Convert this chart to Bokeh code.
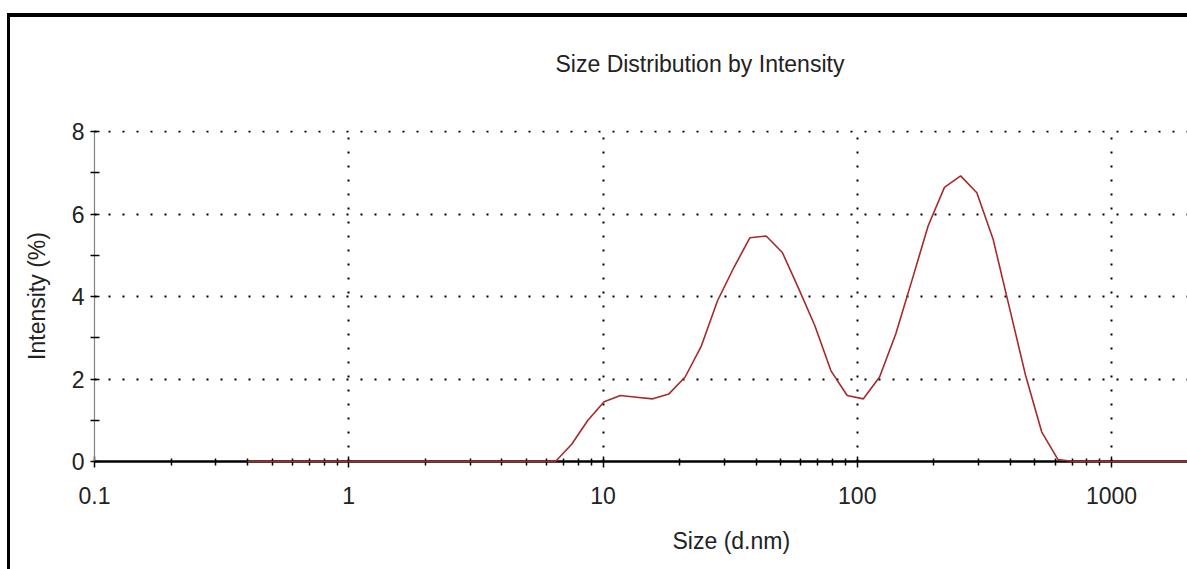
from bokeh.plotting import figure
from bokeh.models import Range1d, FixedTicker, Title
from bokeh.embed import file_html
from bokeh.resources import INLINE

# Size bins (d.nm) and intensity (%)
sizes = [0.4, 0.4632, 0.5365, 0.6213, 0.7195, 0.8332, 0.9649, 1.117, 1.294, 1.499,
         1.736, 2.01, 2.328, 2.696, 3.122, 3.615, 4.187, 4.849, 5.615, 6.503,
         7.531, 8.721, 10.1, 11.7, 13.54, 15.69, 18.17, 21.04, 24.36, 28.21,
         32.67, 37.84, 43.82, 50.75, 58.77, 68.06, 78.82, 91.28, 105.7, 122.4,
         141.8, 164.2, 190.1, 220.2, 255.0, 295.3, 342.0, 396.1, 458.7, 531.2,
         615.1, 712.4, 825.0, 955.4, 1106, 1281, 1484, 1718, 1990, 2305,
         2669, 3091, 3580, 4145, 4801, 5560, 6439, 7456, 8635, 10000]
intensity = [0, 0, 0, 0, 0, 0, 0, 0, 0, 0,
             0, 0, 0, 0, 0, 0, 0, 0, 0, 0.0,
             0.42, 1.0, 1.45, 1.6, 1.56, 1.52, 1.64, 2.05, 2.8, 3.9,
             4.7, 5.43, 5.47, 5.07, 4.2, 3.3, 2.2, 1.6, 1.52, 2.05,
             3.1, 4.4, 5.72, 6.65, 6.93, 6.52, 5.4, 3.75, 2.1, 0.72,
             0.05, 0, 0, 0, 0, 0, 0, 0, 0, 0,
             0, 0, 0, 0, 0, 0, 0, 0, 0, 0]

x_tick_values = [0.1, 1, 10, 100, 1000, 10000]
x_tick_labels = ["0.1", "1", "10", "100", "1000", "10000"]
x_grid_values = [1, 10, 100, 1000]
x_minor_values = [m * d for d in (0.1, 1, 10, 100, 1000) for m in range(2, 10)]
y_tick_values = [0, 2, 4, 6, 8]
y_minor_values = [1, 3, 5, 7]
y_grid_values = [2, 4, 6, 8]

title_text = "Size Distribution by Intensity"
x_label = "Size (d.nm)"
y_label = "Intensity (%)"

FONT = "Liberation Sans"
TXT = "#222222"

p = figure(width=1187, height=569, x_axis_type="log",
           x_range=Range1d(0.1, 1990), y_range=Range1d(0, 8.03),
           output_backend="svg", toolbar_location=None,
           min_border_left=94, min_border_right=0,
           min_border_top=130, min_border_bottom=108,
           title=title_text)

p.background_fill_color = "white"
p.border_fill_color = None
p.outline_line_color = None
# thin black frame lines along the top and left of the picture
p.styles = {"box-shadow": "inset 0 13px 0 0 white, inset 7px 0 0 0 white, "
                          "inset 0 17px 0 0 black, inset 10px 0 0 0 black"}

p.title.align = "left"
p.title.offset = 461
p.title.text_font = FONT
p.title.text_font_size = "23px"
p.title.text_font_style = "normal"
p.title.text_color = TXT
p.title.standoff = 0
p.title.padding = dict(left=0, right=0, top=0, bottom=54)

xl = Title(text=x_label, align="left", offset=578, text_font=FONT,
           text_font_size="23px", text_font_style="normal", text_color=TXT,
           vertical_align="top", standoff=0,
           padding=dict(left=0, right=0, top=21, bottom=0))
p.add_layout(xl, "below")

# x axis
xa = p.xaxis[0]
xa.ticker = FixedTicker(ticks=x_tick_values, minor_ticks=x_minor_values)
xa.major_label_overrides = dict(zip(x_tick_values, x_tick_labels))
xa.axis_line_color = "black"
xa.axis_line_width = 2.5
xa.major_tick_line_color = "black"
xa.major_tick_line_width = 1.5
xa.minor_tick_line_color = "black"
xa.minor_tick_line_width = 1.5
xa.major_tick_in = 5
xa.major_tick_out = 6
xa.minor_tick_in = 3
xa.minor_tick_out = 4
xa.major_label_standoff = 19
xa.major_label_text_font = FONT
xa.major_label_text_font_size = "23px"
xa.major_label_text_color = TXT

# y axis
ya = p.yaxis[0]
ya.ticker = FixedTicker(ticks=y_tick_values, minor_ticks=y_minor_values)
ya.axis_line_color = "#808080"
ya.axis_line_width = 1.2
ya.major_tick_line_color = "black"
ya.major_tick_line_width = 1.5
ya.minor_tick_line_color = "black"
ya.minor_tick_line_width = 1.5
ya.major_tick_in = 5
ya.major_tick_out = 4
ya.minor_tick_in = 5
ya.minor_tick_out = 4
ya.major_label_standoff = 6
ya.major_label_text_font = FONT
ya.major_label_text_font_size = "23px"
ya.major_label_text_color = TXT
ya.axis_label = y_label
ya.axis_label_text_font = FONT
ya.axis_label_text_font_size = "23px"
ya.axis_label_text_font_style = "normal"
ya.axis_label_text_color = TXT
ya.axis_label_standoff = 19

# grids
p.xgrid.ticker = FixedTicker(ticks=x_grid_values)
p.ygrid.ticker = FixedTicker(ticks=y_grid_values)
for g in (p.xgrid[0], p.ygrid[0]):
    g.grid_line_color = "black"
    g.grid_line_width = 2
    g.grid_line_dash = "2 12"

p.line(sizes, intensity, line_color="#A52A2A", line_width=1.6, level="annotation")

open("out.html", "w").write(file_html(p, INLINE))
